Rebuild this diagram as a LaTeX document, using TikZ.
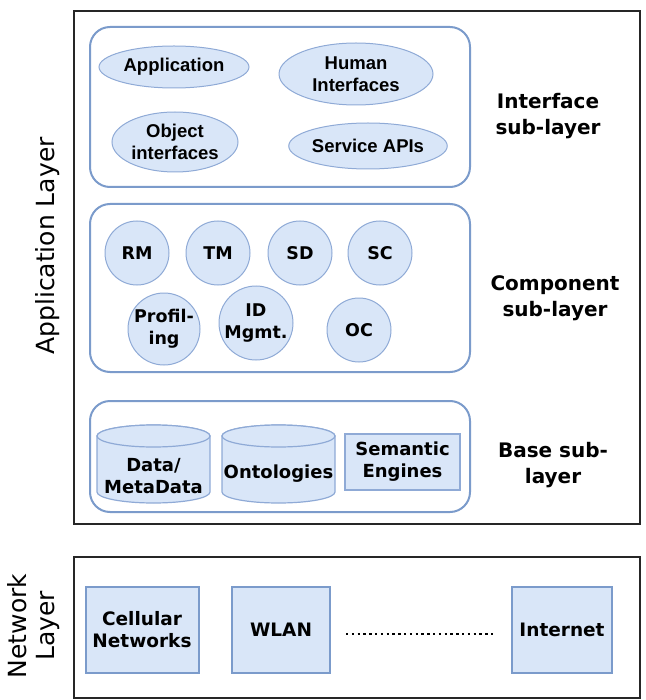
\documentclass[tikz,border=0pt]{standalone}
\usepackage{fontspec}
\setmainfont{DejaVu Sans}
\newfontfamily\arialfam{Liberation Sans}
\usetikzlibrary{shapes.geometric}

\definecolor{elemfill}{HTML}{D9E6F8}
\definecolor{elemline}{HTML}{8FAAD6}
\definecolor{subline}{HTML}{7B9BCB}

\tikzset{
  layerbox/.style={draw=black!85, line width=2.8pt},
  subbox/.style={draw=subline, line width=2pt, rounded corners=20pt},
  oval/.style={ellipse, fill=elemfill, draw=elemline, line width=1pt, inner sep=0pt,
               align=center, font=\arialfam\bfseries\fontsize{18.5}{22}\selectfont},
  circ/.style={circle, fill=elemfill, draw=elemline, line width=1pt, inner sep=0pt,
               align=center, font=\bfseries\fontsize{17.5}{22}\selectfont},
  sqbox/.style={rectangle, fill=elemfill, draw=subline, line width=2pt, inner sep=0pt,
                align=center, font=\bfseries\fontsize{18.5}{22}\selectfont},
  cyl/.style={fill=elemfill, draw=elemline, line width=1.2pt},
  cyltext/.style={align=center, font=\bfseries\fontsize{18}{22}\selectfont},
  lbl/.style={align=center, font=\bfseries\fontsize{20}{26}\selectfont},
  sidelbl/.style={align=center, rotate=90, font=\fontsize{25}{28}\selectfont},
}

\begin{document}
\begin{tikzpicture}[x=1pt, y=-1pt]
\useasboundingbox (0,0) rectangle (645,700);

% Application layer frame and its label
\draw[layerbox] (74,11) rectangle (640,524);
\node[sidelbl] (applbl) at (48,246) {Application Layer};

% Interface sub-layer
\draw[subbox] (90,27) rectangle (470,187);
\node[oval, minimum width=150pt, minimum height=42pt] (app) at (174,67) {Application};
\node[oval, minimum width=154pt, minimum height=62pt] (hum) at (356,74) {Human\\Interfaces};
\node[oval, minimum width=126pt, minimum height=60pt] (obj) at (175,142) {Object\\interfaces};
\node[oval, minimum width=152pt, minimum height=46pt] (api) at (368,146) {Service APIs};
\node[lbl] (ifl) at (548,116) {Interface\\sub-layer};

% Component sub-layer
\draw[subbox] (90,204) rectangle (470,372);
\node[circ, minimum size=64pt] (rm) at (137,253) {RM};
\node[circ, minimum size=64pt] (tm) at (218,253) {TM};
\node[circ, minimum size=64pt] (sd) at (300,253) {SD};
\node[circ, minimum size=64pt] (sc) at (380,253) {SC};
\node[circ, minimum size=72pt] (prof) at (164,329) {Profil-\\ing};
\node[circ, minimum size=74pt] (idm) at (256,323) {ID\\Mgmt.};
\node[circ, minimum size=64pt] (oc) at (359,330) {OC};
\node[lbl] (cpl) at (555,298) {Component\\sub-layer};

% Base sub-layer
\draw[subbox] (90,401) rectangle (470,512);
\path[cyl] (97,436) -- (97,492) arc[start angle=180, end angle=0, x radius=56.5, y radius=11]
  -- (210,436) arc[start angle=0, end angle=-180, x radius=56.5, y radius=11] -- cycle;
\draw[cyl] (153.5,436) ellipse[x radius=56.5, y radius=11];
\node[cyltext] (data) at (153.5,476) {Data/\\MetaData};
\path[cyl] (222,436) -- (222,492) arc[start angle=180, end angle=0, x radius=56.5, y radius=11]
  -- (335,436) arc[start angle=0, end angle=-180, x radius=56.5, y radius=11] -- cycle;
\draw[cyl] (278.5,436) ellipse[x radius=56.5, y radius=11];
\node[cyltext] (onto) at (278.5,474) {Ontologies};
\node[sqbox, draw=elemline, line width=1.5pt, minimum width=115pt, minimum height=56pt,
      font=\bfseries\fontsize{18}{22}\selectfont] (sem) at (402.5,462) {Semantic\\Engines};
\node[lbl] (bsl) at (553,465) {Base sub-\\layer};

% Network layer
\draw[layerbox] (74,557) rectangle (640,698);
\node[sidelbl] (netlbl) at (34,626) {Network\\Layer};
\node[sqbox, minimum width=113pt, minimum height=86pt] (cell) at (142,630) {Cellular\\Networks};
\node[sqbox, minimum width=98pt, minimum height=86pt] (wlan) at (281,630) {WLAN};
\node[sqbox, minimum width=100pt, minimum height=86pt] (inet) at (562,630) {Internet};
\draw[line width=2.4pt, dash pattern=on 2.4pt off 3.4pt] ([xshift=15pt,yshift=-4pt]wlan.east) -- ([xshift=-17pt,yshift=-4pt]inet.west);
\end{tikzpicture}
\end{document}
